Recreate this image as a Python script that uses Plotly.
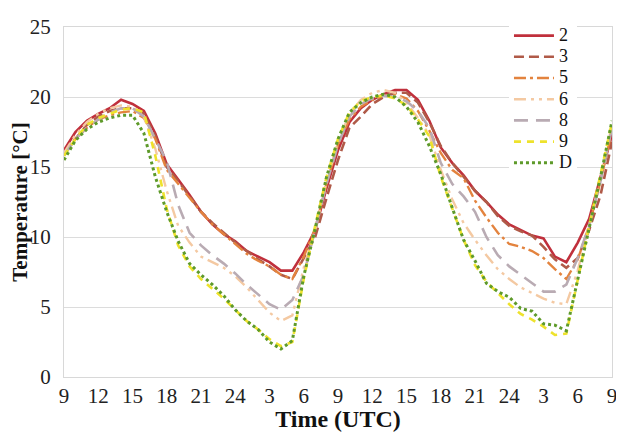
import plotly.graph_objects as go

# hours since 09 UTC of day 1 (0..48)
hours = list(range(49))
tick_vals = list(range(0, 49, 3))
tick_text = ["9", "12", "15", "18", "21", "24", "3", "6", "9", "12", "15", "18", "21", "24", "3", "6", "9"]

s2 = [16.2, 17.5, 18.3, 18.8, 19.2, 19.8, 19.5, 19.0, 17.4, 15.2,
      14.1, 13.0, 11.8, 10.9, 10.2, 9.7, 9.0, 8.6, 8.2, 7.6,
      7.6, 8.9, 10.5, 13.5, 16.2, 18.2, 19.2, 19.8, 20.2, 20.5,
      20.5, 19.8, 18.3, 16.4, 15.3, 14.4, 13.3, 12.5, 11.6, 10.9,
      10.5, 10.1, 9.9, 8.6, 8.2, 9.6, 11.3, 14.2, 17.3]
s3 = [16.0, 17.0, 18.0, 18.6, 19.0, 19.2, 19.2, 18.8, 17.2, 15.0,
      14.0, 12.9, 11.8, 11.0, 10.3, 9.6, 9.0, 8.4, 7.9, 7.3,
      7.0, 8.5, 10.0, 12.8, 15.5, 17.8, 18.6, 19.5, 20.0, 20.3,
      20.3, 19.6, 18.2, 16.5, 15.3, 14.3, 13.3, 12.5, 11.5, 10.8,
      10.4, 10.1, 9.3, 8.4, 7.8, 8.5, 10.5, 13.0, 16.8]
s5 = [16.0, 17.0, 17.8, 18.4, 18.7, 18.9, 19.0, 18.5, 17.0, 14.8,
      13.8, 12.8, 11.8, 10.9, 10.2, 9.5, 8.8, 8.3, 7.9, 7.3,
      7.0, 8.6, 10.6, 13.8, 16.6, 18.4, 19.3, 19.8, 20.1, 20.2,
      19.9, 19.0, 17.6, 16.0, 14.8, 14.2, 12.6, 11.4, 10.3, 9.5,
      9.3, 9.0, 8.5, 7.7, 7.0, 8.4, 10.8, 14.0, 17.6]
s6 = [16.0, 17.3, 18.2, 18.8, 19.2, 19.4, 19.3, 18.6, 16.3, 13.3,
      10.8, 9.6, 8.6, 8.2, 7.8, 7.2, 6.4, 5.5, 4.6, 4.0,
      4.4, 7.8, 10.5, 14.0, 16.8, 18.8, 19.8, 20.3, 20.5, 20.3,
      19.6, 18.5, 17.3, 14.8, 12.7, 11.0, 9.8, 8.7, 7.7, 7.0,
      6.4, 6.0, 5.6, 5.3, 5.2, 7.6, 10.8, 14.3, 18.0]
s8 = [15.8, 17.0, 17.8, 18.4, 18.9, 19.2, 19.2, 18.6, 17.0, 15.4,
      12.3, 10.3, 9.4, 8.7, 8.1, 7.4, 6.6, 5.9, 5.2, 4.8,
      5.5, 7.3, 10.5, 13.8, 16.6, 18.6, 19.5, 19.9, 20.1, 20.0,
      19.7, 19.0, 17.8, 15.3, 13.8, 12.9, 11.8, 10.0, 8.7, 7.9,
      7.3, 6.7, 6.1, 6.1, 6.6, 8.5, 10.8, 14.0, 17.8]
s9 = [15.8, 17.0, 18.0, 18.5, 18.8, 19.1, 19.2, 18.9, 15.8, 12.0,
      9.4, 7.9, 7.0, 6.3, 5.6, 4.8, 4.0, 3.4, 2.7, 2.2,
      2.5, 7.0, 10.8, 14.3, 17.0, 18.9, 19.7, 20.0, 20.1, 19.9,
      19.4, 18.4, 17.2, 14.3, 12.0, 9.8, 8.0, 6.8, 6.0, 5.2,
      4.5, 4.1, 3.6, 3.0, 3.1, 7.0, 10.8, 14.5, 18.2]
sD = [15.5, 16.9, 17.7, 18.2, 18.5, 18.7, 18.7, 17.4, 14.3, 11.8,
      9.7, 8.1, 7.3, 6.6, 5.8, 4.8, 4.0, 3.4, 2.5, 2.0,
      2.6, 7.2, 10.6, 14.3, 17.0, 18.9, 19.6, 20.0, 20.2, 20.0,
      19.3, 18.2, 16.5, 14.5, 12.1, 9.8, 8.3, 6.7, 6.1, 5.7,
      4.9, 4.7, 3.8, 3.7, 3.3, 7.0, 10.6, 14.3, 18.3]

series = [
    ("2", s2, "#C0303C", "solid", 2.6),
    ("3", s3, "#B05A48", "10px,5px", 2.6),
    ("5", s5, "#E3833E", "12px,4px,3px,4px", 2.4),
    ("6", s6, "#F4C9A2", "12px,5px,3px,5px,3px,5px", 2.4),
    ("8", s8, "#B9ABB3", "14px,8px", 2.6),
    ("9", s9, "#EEE22C", "7px,6px", 2.6),
    ("D", sD, "#5E9A2A", "dot", 3.0),
]

fig = go.Figure()
for name, vals, col, dash, w in series:
    fig.add_trace(go.Scatter(x=hours, y=vals, mode="lines",
                             name='<span style="font-size:18px">' + name + '</span>',
                             line=dict(color=col, dash=dash, width=w)))

serif = "Liberation Serif, Times New Roman, serif"
fig.update_layout(
    width=616, height=424,
    margin=dict(l=55, r=7, t=14, b=55),
    paper_bgcolor="white", plot_bgcolor="white",
    font=dict(family=serif, size=21, color="#222"),
    showlegend=True,
    legend=dict(x=0.812, y=1.02, xanchor="left", yanchor="top",
                bgcolor="white", font=dict(family=serif, size=14, color="#111"),
                tracegroupgap=0, itemwidth=40),
)
fig.update_xaxes(range=[0, 48], tickvals=tick_vals, ticktext=tick_text,
                 showgrid=False, showline=True, linecolor="#D8D8D8", linewidth=1,
                 mirror=True, ticks="", zeroline=False,
                 title=dict(text="<b>Time (UTC)</b>", font=dict(family=serif, size=24, color="#111"),
                            standoff=0))
fig.update_yaxes(range=[0, 25], tickvals=[0, 5, 10, 15, 20, 25],
                 showgrid=True, gridcolor="#DCDCDC", gridwidth=1,
                 showline=True, linecolor="#D8D8D8", linewidth=1, mirror=True,
                 ticks="", zeroline=False, ticklabelstandoff=8,
                 title=dict(text="<b>Temperature [°C]</b>", font=dict(family=serif, size=21, color="#111"),
                            standoff=0))

fig.write_html("out.html")
